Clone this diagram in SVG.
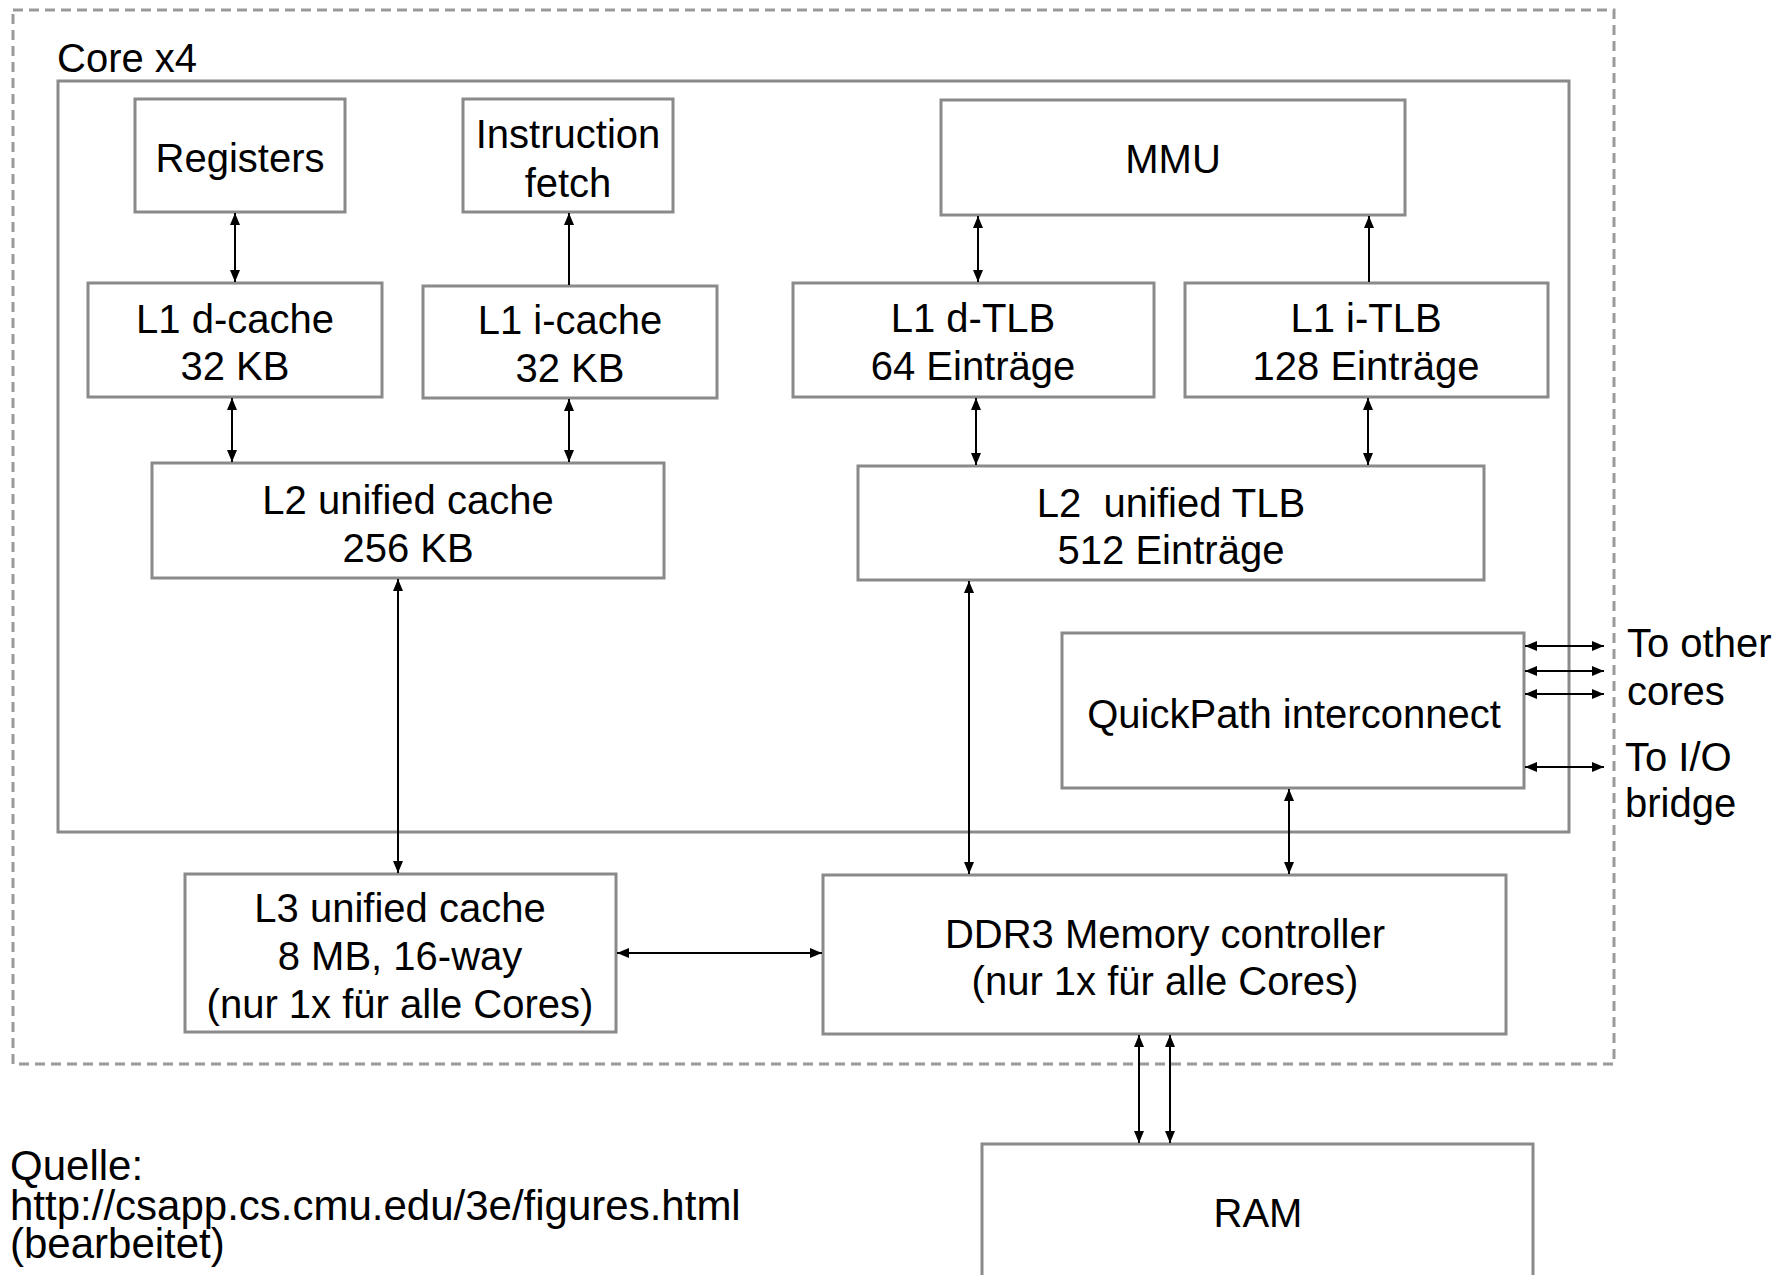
<svg xmlns="http://www.w3.org/2000/svg" width="1784" height="1275" viewBox="0 0 1784 1275">
  <defs>
    <marker id="ah" viewBox="0 0 12 10" refX="12" refY="5" markerWidth="12" markerHeight="10" markerUnits="userSpaceOnUse" orient="auto-start-reverse">
      <path d="M0,0 L12,5 L0,10 Z" fill="#000"/>
    </marker>
    <style>
      .box { fill: #fff; stroke: #8a8a8a; stroke-width: 3; }
      .frame { fill: none; stroke: #8a8a8a; stroke-width: 3; }
      .chip { fill: none; stroke: #9a9a9a; stroke-width: 3; stroke-dasharray: 10 6; }
      .lbl { font-family: "Liberation Sans", Arial, Helvetica, sans-serif; font-size: 40px; fill: #000; text-anchor: middle; }
      .side { font-family: "Liberation Sans", Arial, Helvetica, sans-serif; font-size: 40px; fill: #000; }
      .note { font-family: "Liberation Sans", Arial, Helvetica, sans-serif; font-size: 42px; fill: #000; }
      .bi { stroke: #000; stroke-width: 2; fill: none; marker-start: url(#ah); marker-end: url(#ah); }
      .uni { stroke: #000; stroke-width: 2; fill: none; marker-end: url(#ah); }
    </style>
  </defs>
  <rect width="1784" height="1275" fill="#fff"/>

  <!-- processor package (dashed) and core boundary -->
  <rect class="chip" x="13" y="10" width="1601" height="1054"/>
  <rect class="frame" x="58" y="81" width="1511" height="751"/>
  <text class="side" x="57" y="72">Core x4</text>

  <g id="registers">
    <rect class="box" x="135" y="99" width="210" height="113"/>
    <text class="lbl" x="240" y="172">Registers</text>
  </g>
  <g id="instruction-fetch">
    <rect class="box" x="463" y="99" width="210" height="113"/>
    <text class="lbl" x="568" y="148">Instruction</text>
    <text class="lbl" x="568" y="197">fetch</text>
  </g>
  <g id="mmu">
    <rect class="box" x="941" y="100" width="464" height="115"/>
    <text class="lbl" x="1173" y="173">MMU</text>
  </g>
  <g id="l1-dcache">
    <rect class="box" x="88" y="283" width="294" height="114"/>
    <text class="lbl" x="235" y="333">L1 d-cache</text>
    <text class="lbl" x="235" y="380">32 KB</text>
  </g>
  <g id="l1-icache">
    <rect class="box" x="423" y="286" width="294" height="112"/>
    <text class="lbl" x="570" y="334">L1 i-cache</text>
    <text class="lbl" x="570" y="382">32 KB</text>
  </g>
  <g id="l1-dtlb">
    <rect class="box" x="793" y="283" width="361" height="114"/>
    <text class="lbl" x="973" y="332">L1 d-TLB</text>
    <text class="lbl" x="973" y="380">64 Einträge</text>
  </g>
  <g id="l1-itlb">
    <rect class="box" x="1185" y="283" width="363" height="114"/>
    <text class="lbl" x="1366" y="332">L1 i-TLB</text>
    <text class="lbl" x="1366" y="380">128 Einträge</text>
  </g>
  <g id="l2-cache">
    <rect class="box" x="152" y="463" width="512" height="115"/>
    <text class="lbl" x="408" y="514">L2 unified cache</text>
    <text class="lbl" x="408" y="562">256 KB</text>
  </g>
  <g id="l2-tlb">
    <rect class="box" x="858" y="466" width="626" height="114"/>
    <text class="lbl" x="1171" y="517" xml:space="preserve">L2  unified TLB</text>
    <text class="lbl" x="1171" y="564">512 Einträge</text>
  </g>
  <g id="quickpath">
    <rect class="box" x="1062" y="633" width="462" height="155"/>
    <text class="lbl" x="1294" y="728">QuickPath interconnect</text>
  </g>
  <g id="l3-cache">
    <rect class="box" x="185" y="874" width="431" height="158"/>
    <text class="lbl" x="400" y="922">L3 unified cache</text>
    <text class="lbl" x="400" y="970">8 MB, 16-way</text>
    <text class="lbl" x="400" y="1018">(nur 1x für alle Cores)</text>
  </g>
  <g id="memory-controller">
    <rect class="box" x="823" y="875" width="683" height="159"/>
    <text class="lbl" x="1165" y="948">DDR3 Memory controller</text>
    <text class="lbl" x="1165" y="995">(nur 1x für alle Cores)</text>
  </g>
  <g id="ram">
    <rect class="box" x="982" y="1144" width="551" height="160"/>
    <text class="lbl" x="1258" y="1227">RAM</text>
  </g>

  <g id="connectors">
    <line class="bi" x1="235" y1="213" x2="235" y2="282"/>
    <line class="uni" x1="569" y1="285" x2="569" y2="213"/>
    <line class="bi" x1="978" y1="216" x2="978" y2="282"/>
    <line class="uni" x1="1369" y1="282" x2="1369" y2="216"/>
    <line class="bi" x1="232" y1="398" x2="232" y2="462"/>
    <line class="bi" x1="569" y1="399" x2="569" y2="462"/>
    <line class="bi" x1="976" y1="398" x2="976" y2="465"/>
    <line class="bi" x1="1368" y1="398" x2="1368" y2="465"/>
    <line class="bi" x1="398" y1="579" x2="398" y2="873"/>
    <line class="bi" x1="969" y1="581" x2="969" y2="874"/>
    <line class="bi" x1="1289" y1="789" x2="1289" y2="874"/>
    <line class="bi" x1="617" y1="953" x2="822" y2="953"/>
    <line class="bi" x1="1139" y1="1035" x2="1139" y2="1143"/>
    <line class="bi" x1="1170" y1="1035" x2="1170" y2="1143"/>
    <line class="bi" x1="1525" y1="646" x2="1604" y2="646"/>
    <line class="bi" x1="1525" y1="671" x2="1604" y2="671"/>
    <line class="bi" x1="1525" y1="694" x2="1604" y2="694"/>
    <line class="bi" x1="1525" y1="767" x2="1604" y2="767"/>
  </g>

  <text class="side" x="1627" y="657">To other</text>
  <text class="side" x="1627" y="705">cores</text>
  <text class="side" x="1625" y="771">To I/O</text>
  <text class="side" x="1625" y="817">bridge</text>

  <text class="note" x="10" y="1180">Quelle:</text>
  <text class="note" x="10" y="1220">http://csapp.cs.cmu.edu/3e/figures.html</text>
  <text class="note" x="10" y="1258">(bearbeitet)</text>
</svg>
